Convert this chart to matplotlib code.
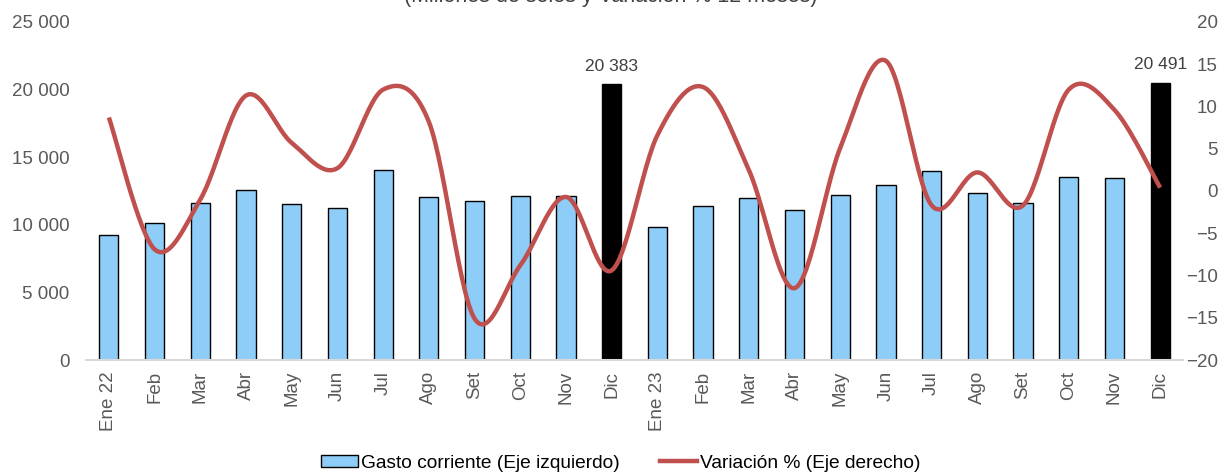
import numpy as np
import matplotlib
matplotlib.use("Agg")
import matplotlib.pyplot as plt
from matplotlib.patches import Patch
from matplotlib.lines import Line2D

plt.rcParams['font.family'] = ['Liberation Sans', 'DejaVu Sans']

months = ["Ene 22", "Feb", "Mar", "Abr", "May", "Jun", "Jul", "Ago", "Set", "Oct", "Nov", "Dic",
          "Ene 23", "Feb", "Mar", "Abr", "May", "Jun", "Jul", "Ago", "Set", "Oct", "Nov", "Dic"]
gasto = [9260, 10100, 11580, 12540, 11530, 11260, 14070, 12070, 11730, 12120, 12150, 20383,
         9850, 11360, 12000, 11110, 12220, 12960, 13950, 12370, 11580, 13560, 13430, 20491]
variacion = [8.7, -6.9, -1.0, 11.3, 5.7, 2.7, 12.0, 8.2, -15.1, -8.8, -0.7, -9.4,
             6.6, 12.3, 2.5, -11.5, 5.1, 15.4, -1.7, 2.2, -1.7, 12.0, 9.6, 0.4]
highlight = [11, 23]

blue = "#8FCDF9"
red = "#C0504D"
gray = "#595959"
FS = 13.5

fig = plt.figure(figsize=(12.29, 4.73), dpi=100)
ax = fig.add_axes([0.070, 0.2389, 0.8926, 0.7146])
x = np.arange(len(months))
colors = ["black" if i in highlight else blue for i in range(len(months))]
ax.bar(x, gasto, width=0.42, color=colors, edgecolor="black", linewidth=1.0, zorder=2)
ax.set_xlim(-0.5, len(months) - 0.5)
ax.set_ylim(0, 25000)
ax.set_yticks(np.arange(0, 25001, 5000))
ax.set_yticklabels([f"{v:,}".replace(",", " ") for v in range(0, 25001, 5000)])
ax.set_xticks(x)
ax.set_xticklabels(months, rotation=90)
ax.tick_params(axis="both", length=0, colors=gray, labelsize=FS)
ax.tick_params(axis="x", pad=8)
ax.tick_params(axis="y", pad=12)
for s in ["top", "right", "left"]:
    ax.spines[s].set_visible(False)
ax.spines["bottom"].set_color("#D9D9D9")
ax.spines["bottom"].set_linewidth(1.5)

for i in highlight:
    ax.text(x[i], gasto[i] + 800, f"{gasto[i]:,}".replace(",", " "), ha="center", va="bottom",
            fontsize=12.5, color="#404040")

ax2 = ax.twinx()
ax2.set_ylim(-20, 20)
ax2.set_yticks(np.arange(-20, 21, 5))
ax2.tick_params(axis="y", length=0, colors=gray, labelsize=FS, pad=25)
for lbl in ax2.get_yticklabels():
    lbl.set_horizontalalignment("right")
for s in ["top", "right", "left", "bottom"]:
    ax2.spines[s].set_visible(False)

# Excel-style smoothed line (Catmull-Rom / Bezier)
pts = np.column_stack([x, variacion]).astype(float)
P = np.vstack([pts[0], pts, pts[-1]])
curve = []
t = np.linspace(0, 1, 30)
for i in range(1, len(P) - 2):
    p0, p1, p2, p3 = P[i - 1], P[i], P[i + 1], P[i + 2]
    c1 = p1 + (p2 - p0) / 6
    c2 = p2 - (p3 - p1) / 6
    seg = ((1 - t) ** 3)[:, None] * p1 + (3 * (1 - t) ** 2 * t)[:, None] * c1 + \
          (3 * (1 - t) * t ** 2)[:, None] * c2 + (t ** 3)[:, None] * p2
    curve.append(seg)
curve = np.vstack(curve)
ax2.plot(curve[:, 0], curve[:, 1], color=red, linewidth=3.2, solid_capstyle="butt", zorder=3)

fig.text(0.497, 1.007, "(Millones de soles y Variación % 12 meses)", ha="center", va="center",
         fontsize=15.5, color="#404040")

handles = [Patch(facecolor=blue, edgecolor="black", linewidth=1.0),
           Line2D([0], [0], color=red, linewidth=3.2)]
fig.legend(handles, ["Gasto corriente (Eje izquierdo)", "Variación % (Eje derecho)"],
           loc="center", bbox_to_anchor=(0.505, 0.021), ncol=2, frameon=False,
           fontsize=13.8, handlelength=1.95, handletextpad=0.15, columnspacing=2.1,
           handleheight=0.55, borderpad=0)
for txt in fig.legends[0].get_texts():
    txt.set_color("black")

fig.savefig("out.png", dpi=100)
